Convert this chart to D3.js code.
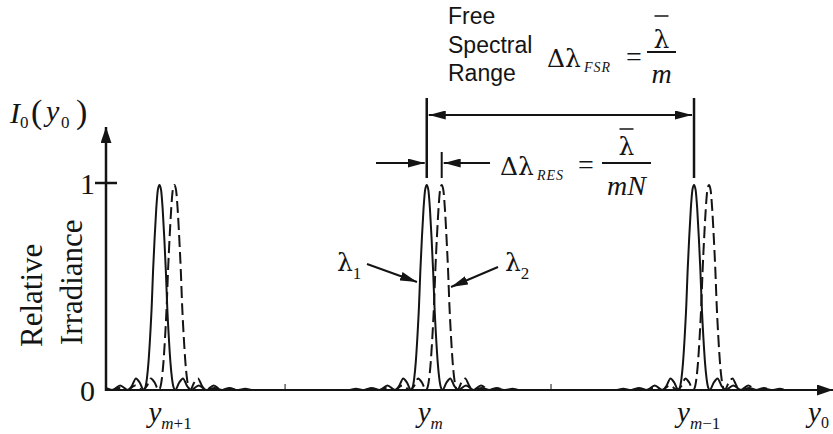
<!DOCTYPE html>
<html>
<head>
<meta charset="utf-8">
<script src="https://cdn.jsdelivr.net/npm/d3@7/dist/d3.min.js"></script>
<style>
body { margin: 0; background: #fff; }
svg { display: block; }
</style>
</head>
<body>
<div id="chart"></div>
<script>
let width = 833;
let height = 434;
let serif = "'Liberation Serif', 'Times New Roman', serif";
let greek = "'DejaVu Serif', serif";
let sans = "'Liberation Sans', Arial, sans-serif";
let ink = "#141414";

// 各级主峰位置（以自由光谱范围为单位）
let orderLabels = ["m+1", "m", "m\u22121"];
let peakCenters = [-1, 0, 1];
let shiftRes = 0.056; // λ2 相对 λ1 的偏移
let minorTicks = [-0.53, 0.465];
let yTicks = [0, 1];

// 单个峰的轮廓（相对峰心的偏移, 相对辐照度）
let profileOffset = [-0.5, -0.294, -0.265, -0.235, -0.206, -0.176, -0.147, -0.118, -0.103, -0.088, -0.074, -0.059,
    -0.053, -0.047, -0.041, -0.035, -0.029, -0.024, -0.018, -0.012, -0.006, 0,
    0.006, 0.012, 0.018, 0.024, 0.029, 0.035, 0.041, 0.047, 0.053,
    0.059, 0.074, 0.088, 0.103, 0.118, 0.147, 0.176, 0.206, 0.235, 0.265, 0.294, 0.5];
let profileValue = [0, 0, 0.006, 0, 0.01, 0, 0.022, 0, 0.02, 0.056, 0.036, 0,
    0.012, 0.055, 0.135, 0.255, 0.405, 0.573, 0.737, 0.875, 0.967, 0.99,
    0.967, 0.875, 0.737, 0.573, 0.405, 0.255, 0.135, 0.055, 0.012,
    0, 0.036, 0.056, 0.02, 0, 0.022, 0, 0.01, 0, 0.006, 0, 0];

function buildSeries(shift) {
    let pts = [];
    peakCenters.forEach(c => {
        profileOffset.forEach((o, i) => pts.push({x: c + shift + o, y: profileValue[i]}));
    });
    return pts;
}
let seriesSolid = buildSeries(0);
let seriesDashed = buildSeries(shiftRes);

let svg = d3.select("#chart").append("svg")
    .attr("width", width)
    .attr("height", height);

let xScale = d3.scaleLinear().domain([-1.2, 1.52]).range([106, 833]);
let yScale = d3.scaleLinear().domain([0, 1]).range([390, 183]);

// 箭头
let defs = svg.append("defs");
function addHead(id, len, w) {
    defs.append("marker")
        .attr("id", id)
        .attr("viewBox", "0 0 " + len + " " + w)
        .attr("refX", len)
        .attr("refY", w / 2)
        .attr("markerWidth", len)
        .attr("markerHeight", w)
        .attr("markerUnits", "userSpaceOnUse")
        .attr("orient", "auto-start-reverse")
        .append("path")
        .attr("d", "M0,0L" + len + "," + (w / 2) + "L0," + w + "Z")
        .attr("fill", ink);
}
addHead("axisHead", 16, 11);
addHead("head", 17, 9);

defs.append("clipPath").attr("id", "plotClip")
    .append("rect")
    .attr("x", xScale(-1.2))
    .attr("y", 0)
    .attr("width", xScale(1.52) - xScale(-1.2))
    .attr("height", height);

// 坐标轴
svg.append("line")
    .attr("x1", xScale(-1.2)).attr("x2", xScale(1.52))
    .attr("y1", yScale(0)).attr("y2", yScale(0))
    .attr("stroke", ink).attr("stroke-width", 2)
    .attr("marker-end", "url(#axisHead)");

svg.append("line")
    .attr("x1", xScale(-1.2)).attr("x2", xScale(-1.2))
    .attr("y1", yScale(0) + 1).attr("y2", yScale(1.27))
    .attr("stroke", ink).attr("stroke-width", 2.5)
    .attr("marker-end", "url(#axisHead)");

svg.append("line")
    .attr("x1", xScale(-1.2) - 11).attr("x2", xScale(-1.2) + 11)
    .attr("y1", yScale(1)).attr("y2", yScale(1))
    .attr("stroke", ink).attr("stroke-width", 2.5);

svg.selectAll(".minor")
    .data(minorTicks)
    .enter().append("line")
    .attr("class", "minor")
    .attr("x1", d => xScale(d)).attr("x2", d => xScale(d))
    .attr("y1", yScale(0) - 6).attr("y2", yScale(0))
    .attr("stroke", ink).attr("stroke-width", 1);

svg.selectAll(".ytick")
    .data(yTicks)
    .enter().append("text")
    .attr("class", "ytick")
    .attr("x", 95)
    .attr("y", d => yScale(d) + 11)
    .attr("text-anchor", "end")
    .style("font-family", serif)
    .style("font-size", "30px")
    .attr("fill", ink)
    .text(d => d);

// 曲线
let line = d3.line()
    .x(d => xScale(d.x))
    .y(d => yScale(d.y))
    .curve(d3.curveMonotoneX);

let plot = svg.append("g").attr("clip-path", "url(#plotClip)");
plot.append("path")
    .datum(seriesSolid)
    .attr("fill", "none")
    .attr("stroke", ink)
    .attr("stroke-width", 2)
    .attr("d", line);
plot.append("path")
    .datum(seriesDashed)
    .attr("fill", "none")
    .attr("stroke", ink)
    .attr("stroke-width", 2)
    .attr("stroke-dasharray", "12,5")
    .attr("d", line);

// y 轴标题
let yl = svg.append("g").style("font-family", serif).attr("fill", ink);
yl.append("text").attr("x", 10).attr("y", 123).style("font-size", "30px").style("font-style", "italic").text("I");
yl.append("text").attr("x", 20).attr("y", 128).style("font-size", "17px").text("0");
yl.append("text").attr("x", 31).attr("y", 123).style("font-size", "34px").text("(");
yl.append("text").attr("x", 46).attr("y", 121).style("font-size", "30px").style("font-style", "italic").text("y");
yl.append("text").attr("x", 61).attr("y", 128).style("font-size", "17px").text("0");
yl.append("text").attr("x", 76).attr("y", 123).style("font-size", "34px").text(")");

yl.append("text")
    .attr("transform", "translate(42,347) rotate(-90)")
    .style("font-size", "31px")
    .text("Relative");
yl.append("text")
    .attr("transform", "translate(82,345) rotate(-90)")
    .style("font-size", "31px")
    .text("Irradiance");

// x 轴峰位标签
let labelShift = [-11, -9, -17];
let xl = svg.selectAll(".order")
    .data(orderLabels)
    .enter().append("text")
    .attr("class", "order")
    .attr("x", (d, i) => xScale(peakCenters[i]) + labelShift[i])
    .attr("y", 422)
    .style("font-family", serif)
    .attr("fill", ink);
xl.append("tspan").style("font-size", "29px").style("font-style", "italic").text("y");
xl.append("tspan").attr("dy", 7).style("font-size", "17px").style("font-style", "italic").text(d => d.slice(0, 1));
xl.append("tspan").style("font-size", "17px").text(d => d.slice(1));

let y0 = svg.append("text").attr("x", 808).attr("y", 422).style("font-family", serif).attr("fill", ink);
y0.append("tspan").style("font-size", "29px").style("font-style", "italic").text("y");
y0.append("tspan").attr("dy", 6).style("font-size", "16px").text("0");

// 自由光谱范围标注
let fsrTop = 98, fsrBottom = 178, fsrY = 115, resY = 163;
[0, 1].forEach(c => {
    svg.append("line")
        .attr("x1", xScale(c)).attr("x2", xScale(c))
        .attr("y1", fsrTop).attr("y2", fsrBottom)
        .attr("stroke", ink).attr("stroke-width", 2.5);
});
svg.append("line")
    .attr("x1", xScale(0) + 2).attr("x2", xScale(1) - 2)
    .attr("y1", fsrY).attr("y2", fsrY)
    .attr("stroke", ink).attr("stroke-width", 2)
    .attr("marker-start", "url(#head)")
    .attr("marker-end", "url(#head)");

svg.append("line")
    .attr("x1", xScale(shiftRes)).attr("x2", xScale(shiftRes))
    .attr("y1", 152).attr("y2", fsrBottom)
    .attr("stroke", ink).attr("stroke-width", 2);
svg.append("line")
    .attr("x1", 376).attr("x2", xScale(0) - 2)
    .attr("y1", resY).attr("y2", resY)
    .attr("stroke", ink).attr("stroke-width", 2)
    .attr("marker-end", "url(#head)");
svg.append("line")
    .attr("x1", 490).attr("x2", xScale(shiftRes) + 2)
    .attr("y1", resY).attr("y2", resY)
    .attr("stroke", ink).attr("stroke-width", 2)
    .attr("marker-end", "url(#head)");

// 文字
let ann = svg.append("g").attr("fill", ink);
["Free", "Spectral", "Range"].forEach((t, i) => {
    ann.append("text").attr("x", 448).attr("y", 24 + i * 28.5)
        .style("font-family", sans).style("font-size", "23px").text(t);
});

function formula(x, y, sub, subX, eqX, fx1, fx2, barY, lamY, olY, olHalf, den, denY) {
    let g = ann.append("g").style("font-family", serif);
    g.append("text").attr("x", x).attr("y", y).style("font-family", greek).style("font-size", "25px").text("\u0394\u03bb");
    g.append("text").attr("x", subX).attr("y", y + 5).style("font-size", "14px")
        .style("font-style", "italic").style("letter-spacing", "1px").text(sub);
    g.append("text").attr("x", eqX).attr("y", y - 1).style("font-size", "28px").text("=");
    g.append("line").attr("x1", fx1).attr("x2", fx2).attr("y1", barY).attr("y2", barY)
        .attr("stroke", ink).attr("stroke-width", 2);
    let cx = (fx1 + fx2) / 2;
    g.append("text").attr("x", cx).attr("y", lamY).attr("text-anchor", "middle")
        .style("font-family", greek).style("font-size", "25px").text("\u03bb");
    g.append("line").attr("x1", cx - olHalf).attr("x2", cx + olHalf).attr("y1", olY).attr("y2", olY)
        .attr("stroke", ink).attr("stroke-width", 1.5);
    g.append("text").attr("x", cx).attr("y", denY).attr("text-anchor", "middle")
        .style("font-size", "28px").style("font-style", "italic").text(den);
}
formula(547, 67, "FSR", 584, 626, 647, 676, 52, 48, 16, 7, "m", 83);
formula(500, 175, "RES", 537, 578, 602, 651, 163, 155, 129, 7, "mN", 195);

// λ1, λ2 标注
let lam = [
    {t: "1", x: 337, y: 271, x1: 367, y1: 264, x2: 417, y2: 282},
    {t: "2", x: 505, y: 271, x1: 498, y1: 267, x2: 451, y2: 287}
];
lam.forEach(d => {
    let t = ann.append("text").attr("x", d.x).attr("y", d.y)
        .style("font-family", serif).style("font-size", "28px");
    t.append("tspan").style("font-family", greek).style("font-size", "25px").text("\u03bb");
    t.append("tspan").attr("dy", 8).style("font-size", "17px").text(d.t);
    ann.append("line")
        .attr("x1", d.x1).attr("y1", d.y1).attr("x2", d.x2).attr("y2", d.y2)
        .attr("stroke", ink).attr("stroke-width", 2)
        .attr("marker-end", "url(#head)");
});
</script>
</body>
</html>
